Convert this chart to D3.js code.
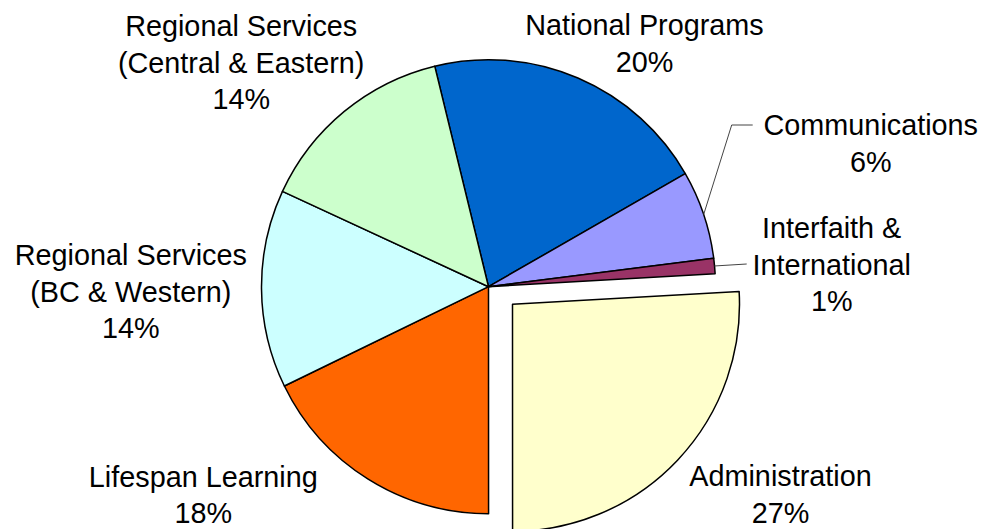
<!DOCTYPE html>
<html>
<head>
<meta charset="utf-8">
<script src="https://cdn.jsdelivr.net/npm/d3@7"></script>
<style>
  html, body { margin: 0; padding: 0; background: #ffffff; }
  svg { display: block; }
  text { font-family: "Liberation Sans", Arial, sans-serif; fill: #000; }
</style>
</head>
<body>
<svg id="chart" width="982" height="529"></svg>
<script>
// ---- data ----
const categories = [
  "National Programs",
  "Communications",
  "Interfaith & International",
  "Administration",
  "Lifespan Learning",
  "Regional Services (BC & Western)",
  "Regional Services (Central & Eastern)"
];
const values = [20.5, 6.3, 1.1, 25.9, 17.8, 14.1, 14.3];
const percentLabels = ["20%", "6%", "1%", "27%", "18%", "14%", "14%"];
const labelLines = [
  ["National Programs"],
  ["Communications"],
  ["Interfaith &", "International"],
  ["Administration"],
  ["Lifespan Learning"],
  ["Regional Services", "(BC & Western)"],
  ["Regional Services", "(Central & Eastern)"]
];
const colors = ["#0066CC", "#9999FF", "#993366", "#FFFFCC", "#FF6600", "#CCFFFF", "#CCFFCC"];

// ---- layout ----
const W = 982, H = 529;
const cx = 488.5, cy = 286.7, R = 227;
const startDeg = -13.7;
const explodeIndex = 3;
const explodeOffset = [24, 17.6];
const fontSize = 28.8, lineH = 36.5;
// label anchor: center x, first baseline y
const labelPos = [
  [644.5, 35],
  [870.8, 135],
  [831.7, 238.3],
  [780.5, 486],
  [203.3, 486.7],
  [130.8, 265],
  [241.2, 36]
];
// leader line endpoints (bend, end) for slices that have one
const leaders = {
  1: [[731.7, 125], [752.7, 125]],
  2: [[746.7, 264]]
};

const svg = d3.select("#chart");
const g = svg.append("g").attr("transform", `translate(${cx},${cy})`);

const a0 = startDeg * Math.PI / 180;
const pie = d3.pie().sort(null).value(d => d).startAngle(a0).endAngle(a0 + 2 * Math.PI);
const arcs = pie(values);
const arc = d3.arc().innerRadius(0).outerRadius(R);

g.selectAll("path.slice")
  .data(arcs)
  .join("path")
  .attr("class", "slice")
  .attr("d", arc)
  .attr("transform", (d, i) => i === explodeIndex ? `translate(${explodeOffset[0]},${explodeOffset[1]})` : null)
  .attr("fill", (d, i) => colors[i])
  .attr("stroke", "#000")
  .attr("stroke-width", 1.5)
  .attr("stroke-linejoin", "round");

// leader lines
Object.keys(leaders).forEach(k => {
  const i = +k;
  const d = arcs[i];
  const mid = (d.startAngle + d.endAngle) / 2;
  const sx = cx + R * Math.sin(mid), sy = cy - R * Math.cos(mid);
  const pts = [[sx, sy]].concat(leaders[i]);
  svg.append("path")
    .attr("d", d3.line()(pts))
    .attr("fill", "none")
    .attr("stroke", "#444")
    .attr("stroke-width", 1);
});

// labels
categories.forEach((c, i) => {
  const lines = labelLines[i].concat([percentLabels[i]]);
  const t = svg.append("text")
    .attr("text-anchor", "middle")
    .attr("font-size", fontSize);
  lines.forEach((ln, j) => {
    t.append("tspan")
      .attr("x", labelPos[i][0])
      .attr("y", labelPos[i][1] + j * lineH)
      .text(ln);
  });
});
</script>
</body>
</html>
